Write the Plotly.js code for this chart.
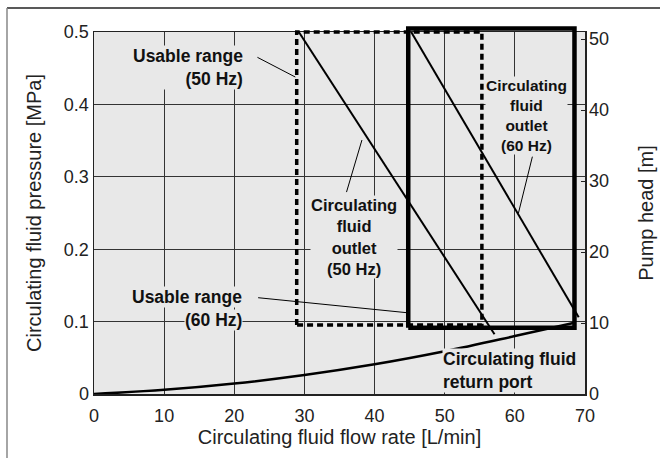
<!DOCTYPE html>
<html><head><meta charset="utf-8">
<script src="https://cdn.plot.ly/plotly-3.0.1.min.js"></script>
<style>body{margin:0;background:#fff}#chart{width:660px;height:458px}</style>
</head><body><div id="chart"></div>
<script>
// ---- data ----
const flowTicks = [0, 10, 20, 30, 40, 50, 60, 70];
const pressureTicks = [0, 0.1, 0.2, 0.3, 0.4, 0.5];
const headTicks = [0, 10, 20, 30, 40, 50];

const outlet50X = [29.2, 57.1];
const outlet50Y = [0.5, 0.0825];
const outlet60X = [45.1, 69.1];
const outlet60Y = [0.502, 0.106];
const returnX = [0, 10, 20, 30, 40, 50, 60, 68.5];
const returnY = [0, 0.0057, 0.0144, 0.0262, 0.041, 0.059, 0.080, 0.0985];
const usable50X = [28.9, 28.9, 55.3, 55.3, 28.9];
const usable50Y = [0.0953, 0.5, 0.5, 0.0953, 0.0953];
const usable60X = [44.8, 44.8, 68.5, 68.5, 44.8];
const usable60Y = [0.0916, 0.505, 0.505, 0.0916, 0.0916];

// text labels (one entry per label block)
const labelTexts = [
  ['Usable range', '(50 Hz)'],
  ['Usable range'],
  ['(60 Hz)'],
  ['Circulating', 'fluid', 'outlet', '(50 Hz)'],
  ['Circulating', 'fluid', 'outlet', '(60 Hz)'],
  ['Circulating fluid', 'return port']
];
const labelX = [21.4, 21.3, 21.3, 37.0, 61.6, 49.6];
const labelY = [0.4514, 0.1344, 0.1022, 0.2165, 0.384, 0.033];
const labelAnchor = ['right', 'right', 'right', 'center', 'center', 'left'];
const labelSize = [17.5, 17.5, 17.5, 16.5, 15.5, 17.5];

const leaderX0 = [23.3, 23.4, 36.0, 62.5];
const leaderY0 = [0.465, 0.133, 0.2789, 0.3278];
const leaderX1 = [28.7, 44.6, 38.2, 60.5];
const leaderY1 = [0.4378, 0.1123, 0.3508, 0.2495];

// ---- chart ----
const PLOTBG = '#e8e8e8';
const FONT = 'Liberation Sans, Arial, Helvetica, sans-serif';
const MAIN_TOP = 362 / 368;          // main plot domain top (room above for thick box edge)

const traces = [
  {x: returnX, y: returnY, mode: 'lines', line: {color: '#000', width: 2.5, shape: 'spline'}},
  {x: outlet50X, y: outlet50Y, mode: 'lines', line: {color: '#000', width: 2}},
  {x: outlet60X, y: outlet60Y, mode: 'lines', line: {color: '#000', width: 2}},
  {x: usable60X, y: usable60Y, xaxis: 'x2', yaxis: 'y3', mode: 'lines', line: {color: '#000', width: 4.5}},
  {x: usable50X, y: usable50Y, xaxis: 'x2', yaxis: 'y3', mode: 'lines', line: {color: '#000', width: 3.5, dash: '6px,4px'}},
  {x: [flowTicks[0]], y: [headTicks[0]], yaxis: 'y2', mode: 'markers', marker: {opacity: 0}}
];

const annotations = labelTexts.map((lines, i) => ({
  text: lines.map(t => '<b>' + t + '</b>').join('<br>'),
  x: labelX[i], y: labelY[i], xref: 'x', yref: 'y',
  xanchor: labelAnchor[i], yanchor: 'middle', align: labelAnchor[i],
  showarrow: false, bgcolor: PLOTBG, borderpad: 0,
  font: {family: FONT, size: labelSize[i], color: '#111'}
}));

const shapes = [
  {type: 'rect', xref: 'x domain', yref: 'y domain', x0: 0, x1: 1, y0: 0, y1: 1,
   fillcolor: PLOTBG, line: {width: 0}, layer: 'below'}
];
leaderX0.forEach((x0, i) => shapes.push({
  type: 'line', xref: 'x', yref: 'y', x0: x0, y0: leaderY0[i], x1: leaderX1[i], y1: leaderY1[i],
  line: {color: '#000', width: 1}, layer: 'above'
}));
// outer frame (top and left edges)
shapes.push({type: 'line', xref: 'paper', yref: 'paper', x0: -0.1772, x1: 1.2, y0: 1.0489, y1: 1.0489, line: {color: '#222', width: 1.5}});
shapes.push({type: 'line', xref: 'paper', yref: 'paper', x0: -0.1772, x1: -0.1772, y0: 1.0489, y1: -0.2, line: {color: '#888', width: 1.5}});

const axisCommon = {
  showgrid: true, gridcolor: '#333', gridwidth: 1, zeroline: false,
  showline: true, linecolor: '#222', linewidth: 1.5, mirror: true,
  ticks: '', tickfont: {family: FONT, size: 18, color: '#222'}
};

const layout = {
  width: 660, height: 458,
  margin: {l: 94, r: 75, t: 26, b: 64},
  paper_bgcolor: '#fff', plot_bgcolor: 'rgba(0,0,0,0)',
  showlegend: false,
  font: {family: FONT, color: '#222'},
  xaxis: Object.assign({}, axisCommon, {
    range: [0, 70], tickvals: flowTicks, ticklabelstandoff: 5,
    title: {text: 'Circulating fluid flow rate [L/min]', font: {family: FONT, size: 20, color: '#222'}, standoff: 5}
  }),
  yaxis: Object.assign({}, axisCommon, {
    domain: [0, MAIN_TOP], range: [0, 0.5], tickvals: pressureTicks,
    title: {text: 'Circulating fluid pressure [MPa]', font: {family: FONT, size: 20, color: '#222'}, standoff: 17}
  }),
  yaxis2: {
    overlaying: 'y', side: 'right', range: [0, 51], tickvals: headTicks,
    showgrid: false, zeroline: false, showline: false,
    ticks: 'inside', ticklen: 4, tickcolor: '#222', ticklabelstandoff: 3,
    tickfont: {family: FONT, size: 18, color: '#222'},
    title: {text: 'Pump head [m]', font: {family: FONT, size: 20, color: '#222'}, standoff: 30}
  },
  xaxis2: {domain: [0, 1], range: [0, 70], visible: false, anchor: 'y3'},
  yaxis3: {domain: [0, 1], range: [0, 0.5 / MAIN_TOP], visible: false, anchor: 'x2'},
  annotations: annotations,
  shapes: shapes
};

Plotly.newPlot('chart', traces, layout, {staticPlot: true, displayModeBar: false});
</script>
</body></html>
